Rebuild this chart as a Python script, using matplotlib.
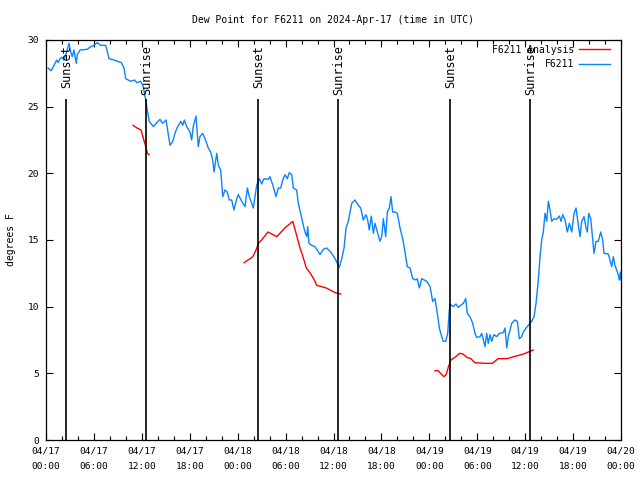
import pandas as pd
import matplotlib
matplotlib.use('Agg')
import matplotlib.pyplot as plt
import matplotlib.dates as mdates

start = pd.Timestamp('2024-04-17 00:00')
end = pd.Timestamp('2024-04-20 00:00')

# observed dew point (hours after 04/17 00:00 UTC, degrees F)
obs_hours = [0.25, 0.66, 1.0, 1.34, 1.5, 1.75, 2.0, 2.25, 2.59, 2.88, 3.09, 3.29, 3.5, 3.79, 3.92,
             4.26, 5.17, 5.6, 6.01, 6.42, 6.85, 7.48, 7.89, 8.51, 9.43, 9.77, 9.98, 10.6, 11.1,
             11.36, 11.86, 12.18, 12.48, 12.68, 12.93, 13.44, 13.86, 14.28, 14.61, 15.03, 15.53,
             15.87, 16.15, 16.44, 16.69, 16.87, 17.12, 17.32, 17.62, 18.03, 18.24, 18.44, 18.78,
             19.07, 19.28, 19.62, 19.91, 20.32, 20.62, 20.87, 21.04, 21.38, 21.58, 21.88, 22.13,
             22.41, 22.7, 22.95, 23.25, 23.54, 23.88, 24.08, 24.51, 24.92, 25.21, 25.46, 25.96,
             26.38, 26.71, 27.01, 27.3, 27.84, 28.05, 28.46, 28.8, 29.09, 29.39, 29.64, 29.93,
             30.22, 30.47, 30.77, 30.97, 31.39, 31.59, 31.89, 32.22, 32.43, 32.65, 32.77, 32.93,
             33.27, 33.68, 33.97, 34.31, 34.72, 35.15, 35.65, 36.19, 36.73, 37.03, 37.32, 37.57,
             37.85, 38.28, 38.69, 39.11, 39.41, 39.73, 40.07, 40.28, 40.48, 40.74, 40.99, 41.2,
             41.49, 41.82, 42.04, 42.24, 42.54, 42.74, 42.99, 43.2, 43.41, 43.7, 43.99, 44.33,
             44.67, 44.95, 45.24, 45.58, 45.92, 46.33, 46.49, 46.75, 47.05, 47.67, 48.09, 48.42,
             48.71, 49.0, 49.25, 49.55, 49.75, 50.05, 50.3, 50.47, 50.59, 51.0, 51.34, 51.63,
             51.93, 52.26, 52.56, 52.76, 53.09, 53.43, 53.72, 53.93, 54.35, 54.56, 54.76, 54.97,
             55.18, 55.38, 55.6, 55.81, 56.1, 56.44, 56.76, 57.26, 57.48, 57.69, 57.89, 58.32,
             58.73, 59.02, 59.27, 59.57, 59.77, 60.11, 60.39, 60.82, 61.11, 61.36, 61.65, 61.86,
             62.07, 62.27, 62.49, 62.7, 62.9, 63.11, 63.32, 63.61, 63.95, 64.28, 64.49, 64.7,
             64.99, 65.28, 65.53, 65.83, 66.12, 66.37, 66.66, 66.87, 67.08, 67.37, 67.62, 67.79,
             67.96, 68.21, 68.46, 68.62, 68.87, 69.16, 69.46, 69.71, 69.87, 70.41, 70.62, 70.84,
             71.04, 71.25, 71.46, 71.66, 71.79, 71.94, 72.0]
obs_dewpt = [27.9, 27.7, 28.1, 28.5, 28.3, 28.6, 28.7, 28.5, 29.1, 29.75, 29.1, 28.75, 29.25, 28.25, 28.9,
             29.25, 29.3, 29.5, 29.6, 29.8, 29.6, 29.6, 28.6, 28.5, 28.3, 27.9, 27.1, 26.9, 27.0,
             26.8, 26.9, 26.5, 25.5, 24.75, 23.9, 23.5, 23.8, 24.05, 23.75, 24.0, 22.1,
             22.4, 23.0, 23.45, 23.7, 23.9, 23.6, 24.0, 23.5, 23.1, 22.5, 23.5, 24.3,
             22.0, 22.75, 23.0, 22.6, 21.9, 21.6, 21.0, 20.1, 21.5, 20.6, 20.25, 18.25,
             18.75, 18.6, 18.0, 18.0, 17.25, 18.1, 18.4, 17.9, 17.5, 18.9, 18.25, 17.4,
             19.1, 19.6, 19.2, 19.6, 19.55, 19.75, 19.0, 18.25, 18.9, 18.9, 19.5, 19.9,
             19.6, 20.05, 19.9, 18.9, 18.75, 17.75, 17.0, 16.1, 15.6, 15.25, 16.0, 14.75,
             14.6, 14.5, 14.25, 13.9, 14.3, 14.4, 14.1, 13.6, 12.95, 13.6, 14.4, 15.9,
             16.4, 17.75, 18.0, 17.6, 17.4, 16.5, 16.9, 16.5, 15.75, 16.8, 15.5, 16.25,
             15.6, 14.9, 15.25, 16.6, 15.25, 17.1, 17.4, 18.25, 17.1, 17.1, 17.0, 15.9,
             15.1, 14.1, 13.0, 12.9, 12.1, 12.0, 12.1, 11.4, 12.1, 11.9, 11.5, 10.4,
             10.6, 9.5, 8.4, 7.75, 7.4, 7.4, 8.0, 9.5, 10.2, 10.0, 10.2, 9.95,
             10.1, 10.25, 10.6, 9.5, 9.25, 8.75, 8.0, 7.7, 7.75, 8.0, 7.5, 7.0,
             8.0, 7.25, 7.9, 7.4, 7.9, 7.75, 8.0, 8.05, 8.4, 6.9, 7.75, 8.75,
             9.0, 8.9, 7.6, 7.75, 8.1, 8.4, 8.6, 8.9, 9.25, 10.25, 12.0, 13.75,
             15.0, 15.6, 17.0, 16.4, 17.9, 17.25, 16.4, 16.6, 16.55, 16.8, 16.4, 16.9,
             16.5, 15.6, 16.25, 15.6, 17.0, 17.4, 16.1, 15.25, 16.4, 16.75, 15.9, 15.6,
             17.0, 16.6, 15.0, 14.0, 14.9, 14.9, 15.6, 15.0, 14.0, 13.95, 13.5, 13.0,
             13.75, 13.1, 12.75, 12.4, 12.0, 12.6, 12.0]

# analysis dew point, three separate runs
ana_hours = [[10.9, 11.4, 11.9, 12.2, 12.5, 12.7, 12.9],
             [24.8, 25.3, 25.9, 26.3, 26.6, 27.0, 27.8, 28.9, 29.9, 30.9, 31.2, 31.5, 31.8,
              32.1, 32.6, 33.1, 33.6, 33.9, 35.1, 36.2, 36.9],
             [48.7, 49.1, 49.4, 49.8, 50.1, 50.4, 50.7, 51.2, 51.8, 52.2, 52.7, 53.2, 53.7,
              55.0, 55.9, 56.6, 57.7, 58.3, 58.9, 59.8, 60.4, 61.0]]
ana_dewpt = [[23.6, 23.4, 23.25, 22.6, 22.0, 21.5, 21.4],
             [13.3, 13.5, 13.75, 14.25, 14.75, 15.0, 15.6, 15.25, 15.9, 16.4, 15.75, 15.1, 14.4,
              13.9, 12.9, 12.5, 12.0, 11.6, 11.4, 11.05, 10.95],
             [5.2, 5.2, 5.0, 4.75, 4.9, 5.5, 6.0, 6.2, 6.5, 6.45, 6.2, 6.1, 5.8,
              5.75, 5.75, 6.1, 6.1, 6.2, 6.3, 6.45, 6.6, 6.75]]

sun_hours = [2.55, 12.5, 26.58, 36.6, 50.6, 60.55]
sun_labels = ['Sunset', 'Sunrise', 'Sunset', 'Sunrise', 'Sunset', 'Sunrise']


def to_time(hours):
    return start + pd.to_timedelta(hours, unit='h')


plt.rcParams['font.family'] = 'DejaVu Sans Mono'
plt.rcParams['font.size'] = 7

fig = plt.figure(figsize=(6.4, 4.8), dpi=100)
ax = fig.add_axes([46 / 640, 40 / 480, 575 / 640, 400 / 480])

for i in range(len(ana_hours)):
    ax.plot(to_time(ana_hours[i]), ana_dewpt[i], color='#ff0000', lw=1.0,
            label='F6211 Analysis' if i == 0 else None)
ax.plot(to_time(obs_hours), obs_dewpt, color='#0a84ff', lw=1.0, label='F6211')

ax.vlines(to_time(sun_hours), 0, 25.6, color='black', lw=1.2)
for h, lab in zip(sun_hours, sun_labels):
    ax.text(to_time([h + 0.1])[0], 29.6, lab, rotation=90, ha='center', va='top', fontsize=8.6)

ax.set_xlim(start, end)
ax.set_ylim(0, 30)
ax.set_yticks(range(0, 31, 5))
ax.xaxis.set_major_locator(mdates.HourLocator(byhour=[0, 6, 12, 18]))
ax.xaxis.set_minor_locator(mdates.HourLocator(interval=2))
ax.xaxis.set_major_formatter(mdates.DateFormatter('%m/%d\n%H:%M'))
ax.tick_params(which='both', direction='in', top=True, right=True, width=0.8, labelsize=6.8)
ax.tick_params(which='major', length=5, pad=5)
ax.tick_params(which='minor', length=3)
for lbl in ax.get_xticklabels():
    lbl.set_linespacing(1.9)
for s in ax.spines.values():
    s.set_linewidth(0.9)

ax.set_ylabel('degrees F', labelpad=8)
ax.set_title('Dew Point for F6211 on 2024-Apr-17 (time in UTC)', fontsize=7, pad=12)

ax.legend(loc='upper right', bbox_to_anchor=(0.993, 1.005), frameon=False,
          markerfirst=False, handlelength=3.2, handletextpad=0.5,
          labelspacing=0.45, borderaxespad=0.3)

fig.savefig('out.png', dpi=100)
